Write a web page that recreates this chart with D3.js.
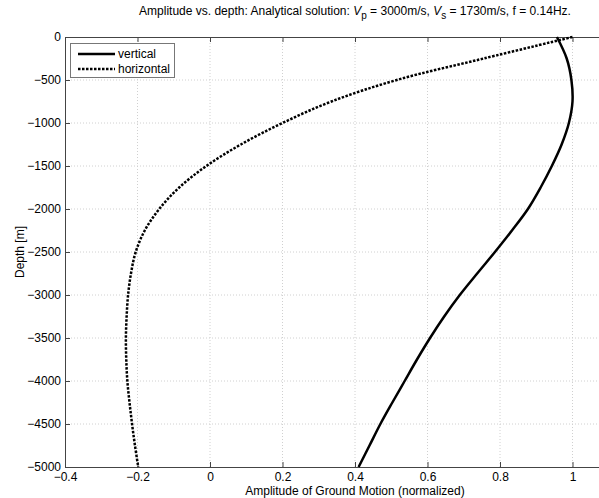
<!DOCTYPE html>
<html>
<head>
<meta charset="utf-8">
<script src="https://cdn.jsdelivr.net/npm/d3@7"></script>
<style>
  body { margin: 0; background: #fff; }
  svg { font-family: "Liberation Sans", Arial, sans-serif; }
  .grid line { stroke: #d0d0d0; stroke-dasharray: 1,2; }
</style>
</head>
<body>
<div id="chart"></div>
<script>
// depth samples (m) and normalized amplitudes
var depths = d3.range(0, -5001, -250);
var vertical = [0.957, 0.984, 0.997, 1.0, 0.99, 0.97, 0.943, 0.912, 0.877, 0.833, 0.786, 0.737, 0.689, 0.646, 0.607, 0.571, 0.537, 0.503, 0.47, 0.44, 0.41];
var horizontal = [1.0, 0.755, 0.515, 0.335, 0.2, 0.085, -0.01, -0.085, -0.14, -0.18, -0.205, -0.218, -0.226, -0.23, -0.232, -0.231, -0.228, -0.222, -0.215, -0.207, -0.198];
var xTicks = [-0.4, -0.2, 0, 0.2, 0.4, 0.6, 0.8, 1];
var yTicks = d3.range(0, -5001, -500);

var width = 599, height = 498;
var margin = {left: 65, top: 37, bottom: 31};

var svg = d3.select("#chart").append("svg").attr("width", width).attr("height", height);

var x = d3.scaleLinear().domain([-0.4, 1.2]).range([margin.left, 645]);
var y = d3.scaleLinear().domain([0, -5000]).range([margin.top, height - margin.bottom]);

// grid
var grid = svg.append("g").attr("class", "grid");
grid.selectAll(".gx").data(xTicks.slice(1)).enter().append("line")
  .attr("x1", function(d) { return x(d); }).attr("x2", function(d) { return x(d); })
  .attr("y1", y(0)).attr("y2", y(-5000));
grid.selectAll(".gy").data(yTicks.slice(1, -1)).enter().append("line")
  .attr("x1", x(-0.4)).attr("x2", x(1.2))
  .attr("y1", function(d) { return y(d); }).attr("y2", function(d) { return y(d); });

// axes, ticks pointing inward like matlab
var axisColor = "#444";
var gb = svg.append("g").attr("transform", "translate(0," + y(-5000) + ")")
  .call(d3.axisBottom(x).tickValues(xTicks).tickSizeInner(-5).tickSizeOuter(0).tickPadding(4)
    .tickFormat(function(d) { return d === 0 ? "0" : d3.format("")(d); }));
var gt = svg.append("g").attr("transform", "translate(0," + y(0) + ")")
  .call(d3.axisTop(x).tickValues(xTicks).tickSizeInner(-5).tickSizeOuter(0).tickFormat(""));
var gl = svg.append("g").attr("transform", "translate(" + x(-0.4) + ",0)")
  .call(d3.axisLeft(y).tickValues(yTicks).tickSizeInner(-5).tickSizeOuter(0).tickPadding(4).tickFormat(d3.format("d")));

[gb, gt, gl].forEach(function(g) {
  g.select(".domain").attr("stroke", axisColor);
  g.selectAll(".tick line").attr("stroke", axisColor);
  g.selectAll("text").attr("fill", "#000").style("font-size", "12px").style("font-family", "Liberation Sans, Arial, sans-serif");
});
gb.selectAll("text").attr("dy", "0.85em");

// curves
var line = d3.line().curve(d3.curveCatmullRom.alpha(0.5));
function pts(vals) { return vals.map(function(v, i) { return [x(v), y(depths[i])]; }); }

svg.append("path").attr("d", line(pts(horizontal)))
  .attr("fill", "none").attr("stroke", "#000").attr("stroke-width", 2.5).attr("stroke-dasharray", "2.5,1.5");
svg.append("path").attr("d", line(pts(vertical)))
  .attr("fill", "none").attr("stroke", "#000").attr("stroke-width", 2.5);

// legend
var lg = svg.append("g");
lg.append("rect").attr("x", 70.5).attr("y", 43.5).attr("width", 104).attr("height", 34)
  .attr("fill", "#fff").attr("stroke", "#777");
[["vertical", null], ["horizontal", "2.5,1.5"]].forEach(function(e, i) {
  var yy = 54 + i * 15;
  lg.append("line").attr("x1", 78).attr("x2", 115).attr("y1", yy).attr("y2", yy)
    .attr("stroke", "#000").attr("stroke-width", 2.5).attr("stroke-dasharray", e[1]);
  lg.append("text").attr("x", 118).attr("y", yy + 4).style("font-size", "12px").text(e[0]);
});

// title
var t = svg.append("text").attr("x", 355).attr("y", 15).attr("text-anchor", "middle").style("font-size", "12px");
t.append("tspan").text("Amplitude vs. depth: Analytical solution: ");
t.append("tspan").style("font-style", "italic").text("V");
t.append("tspan").attr("dy", 4).style("font-size", "10px").text("p");
t.append("tspan").attr("dy", -4).text(" = 3000m/s, ");
t.append("tspan").style("font-style", "italic").text("V");
t.append("tspan").attr("dy", 4).style("font-size", "10px").text("s");
t.append("tspan").attr("dy", -4).text(" = 1730m/s, f = 0.14Hz.");

// axis labels
svg.append("text").attr("x", 355).attr("y", 495).attr("text-anchor", "middle").style("font-size", "12px")
  .text("Amplitude of Ground Motion (normalized)");
svg.append("text").attr("transform", "translate(24," + y(-2500) + ") rotate(-90)")
  .attr("text-anchor", "middle").style("font-size", "12px").text("Depth [m]");
</script>
</body>
</html>
